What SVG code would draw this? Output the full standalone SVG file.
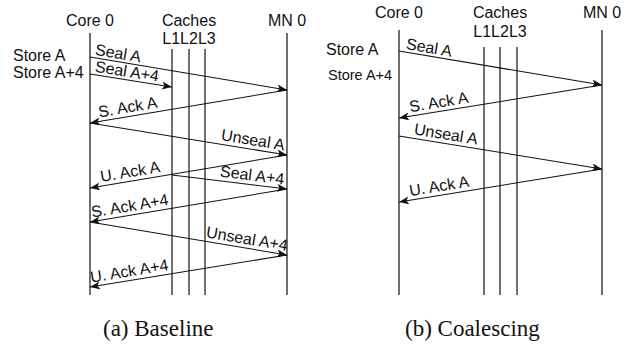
<svg xmlns="http://www.w3.org/2000/svg" width="636" height="345" viewBox="0 0 636 345">
  <style>
    .t { font-family: "Liberation Sans", Arial, sans-serif; font-size: 16px; fill: #111; }
    .lbl { font-family: "Liberation Sans", Arial, sans-serif; font-size: 16px; fill: #111; }
    .cap { font-family: "Liberation Serif", "Times New Roman", serif; font-size: 23px; fill: #111; }
    .life { stroke: #222; stroke-width: 1.3; fill: none; }
    .msg { stroke: #111; stroke-width: 1.1; fill: none; marker-end: url(#arrow); }
  </style>
  <defs>
    <marker id="arrow" markerUnits="userSpaceOnUse" markerWidth="12" markerHeight="10" refX="10" refY="4" orient="auto">
      <path d="M0,0 L10,4 L0,8 L2.5,4 Z" fill="#111"/>
    </marker>
  </defs>
  <rect width="636" height="345" fill="#fff"/>

  <!-- (a) Baseline -->
  <g id="baseline">
    <g id="a-core">
      <text class="t" x="90" y="26" text-anchor="middle">Core 0</text>
      <line class="life" x1="90" y1="33" x2="90" y2="295"/>
    </g>
    <g id="a-caches">
      <text class="t" x="189" y="26" text-anchor="middle">Caches</text>
      <text class="t" x="189" y="44" text-anchor="middle">L1L2L3</text>
      <line class="life" x1="172" y1="49" x2="172" y2="295"/>
      <line class="life" x1="189" y1="49" x2="189" y2="295"/>
      <line class="life" x1="205" y1="49" x2="205" y2="295"/>
    </g>
    <g id="a-mn">
      <text class="t" x="287" y="26" text-anchor="middle">MN 0</text>
      <line class="life" x1="287" y1="33" x2="287" y2="295"/>
    </g>
    <g id="a-ops">
      <text class="t" x="13" y="61">Store A</text>
      <text class="t" x="13" y="78">Store A+4</text>
    </g>
    <g id="a-connectors">
      <line class="msg" x1="90" y1="57" x2="287" y2="90"/>
      <line class="msg" x1="90" y1="74" x2="172" y2="87"/>
      <line class="msg" x1="287" y1="90" x2="90" y2="123"/>
      <line class="msg" x1="90" y1="123" x2="287" y2="155"/>
      <line class="msg" x1="287" y1="155" x2="90" y2="188"/>
      <line class="msg" x1="172" y1="175" x2="287" y2="189"/>
      <line class="msg" x1="287" y1="189" x2="90" y2="222"/>
      <line class="msg" x1="90" y1="222" x2="287" y2="255"/>
      <line class="msg" x1="287" y1="255" x2="90" y2="287"/>
      <text class="lbl" transform="translate(90,57) rotate(9.5)" x="4" y="-3">Seal A</text>
      <text class="lbl" transform="translate(90,74) rotate(9)" x="4" y="-3">Seal A+4</text>
      <text class="lbl" transform="translate(90,123) rotate(-9.5)" x="10" y="-4">S. Ack A</text>
      <text class="lbl" transform="translate(287,155) rotate(9.3)" x="-4" y="-4" text-anchor="end">Unseal A</text>
      <text class="lbl" transform="translate(90,188) rotate(-9.5)" x="12" y="-4">U. Ack A</text>
      <text class="lbl" transform="translate(287,189) rotate(7.2)" x="-4" y="-4" text-anchor="end">Seal A+4</text>
      <text class="lbl" transform="translate(90,222) rotate(-9.5)" x="3" y="-4">S. Ack A+4</text>
      <text class="lbl" transform="translate(287,255) rotate(9.5)" x="-1" y="-4" text-anchor="end">Unseal A+4</text>
      <text class="lbl" transform="translate(90,287) rotate(-9.3)" x="2" y="-4">U. Ack A+4</text>
    </g>
    <text class="cap" x="103" y="336">(a) Baseline</text>
  </g>

  <!-- (b) Coalescing -->
  <g id="coalescing">
    <g id="b-core">
      <text class="t" x="399" y="18" text-anchor="middle">Core 0</text>
      <line class="life" x1="399" y1="30" x2="399" y2="295"/>
    </g>
    <g id="b-caches">
      <text class="t" x="500" y="18" text-anchor="middle">Caches</text>
      <text class="t" x="500" y="37" text-anchor="middle">L1L2L3</text>
      <line class="life" x1="484" y1="47" x2="484" y2="295"/>
      <line class="life" x1="500" y1="47" x2="500" y2="295"/>
      <line class="life" x1="517" y1="47" x2="517" y2="295"/>
    </g>
    <g id="b-mn">
      <text class="t" x="602" y="18" text-anchor="middle">MN 0</text>
      <line class="life" x1="602" y1="30" x2="602" y2="295"/>
    </g>
    <g id="b-ops">
      <text class="t" x="326" y="55">Store A</text>
      <text class="t" x="328" y="80" style="font-size:14.5px">Store A+4</text>
    </g>
    <g id="b-connectors">
      <line class="msg" x1="399" y1="51" x2="602" y2="85"/>
      <line class="msg" x1="602" y1="85" x2="399" y2="118"/>
      <line class="msg" x1="399" y1="136" x2="602" y2="169"/>
      <line class="msg" x1="602" y1="169" x2="399" y2="202"/>
      <text class="lbl" transform="translate(399,51) rotate(9.5)" x="6" y="-3">Seal A</text>
      <text class="lbl" transform="translate(399,118) rotate(-9.2)" x="12" y="-4">S. Ack A</text>
      <text class="lbl" transform="translate(399,136) rotate(9.2)" x="14" y="-4">Unseal A</text>
      <text class="lbl" transform="translate(399,202) rotate(-9.2)" x="12" y="-4">U. Ack A</text>
    </g>
    <text class="cap" x="405" y="336">(b) Coalescing</text>
  </g>
</svg>
